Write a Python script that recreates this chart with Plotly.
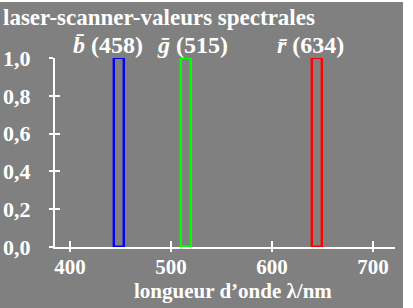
import plotly.graph_objects as go

# Data
channels = ["b", "g", "r"]
peak_labels = [458, 515, 634]
bar_centers = [448.5, 515.3, 644.3]
bar_heights = [1.0, 1.0, 1.0]
bar_width = 10
bar_colors = ["#0000ff", "#00ff00", "#ff0000"]
label_px = [108, 192, 310]
x_ticks = [400, 500, 600, 700]
y_ticks = [0.0, 0.2, 0.4, 0.6, 0.8, 1.0]

W, H = 413, 308
L, R, T, B = 55, 18, 58, 61
pw = W - L - R
ph = H - T - B

FONT = "Liberation Serif"
GRAY = "#808080"

fig = go.Figure()
for c, x, h, col in zip(channels, bar_centers, bar_heights, bar_colors):
    fig.add_trace(go.Bar(x=[x], y=[h], width=[bar_width],
                         marker=dict(color="rgba(0,0,0,0)", line=dict(color=col, width=2.4)),
                         showlegend=False, hoverinfo="skip"))

# empty helper traces so the overlaid tick-only axes are drawn
fig.add_trace(go.Scatter(x=[], y=[], xaxis="x2", yaxis="y", showlegend=False, hoverinfo="skip"))
fig.add_trace(go.Scatter(x=[], y=[], xaxis="x", yaxis="y2", showlegend=False, hoverinfo="skip"))

for c, p, lx in zip(channels, peak_labels, label_px):
    fig.add_annotation(x=(lx - L) / pw, y=(H - B - 45) / ph, xref="paper", yref="paper",
                       showarrow=False,
                       text=f"<i>{c}\u0304</i> ({p})", xanchor="center", yanchor="middle",
                       font=dict(family=FONT, size=24, color="white", weight="bold"))

fig.add_annotation(x=(233 - L) / pw, y=-(291 - (H - B)) / ph, xref="paper", yref="paper",
                   showarrow=False, text="longueur d\u2019onde \u03bb/nm",
                   xanchor="center", yanchor="middle",
                   font=dict(family=FONT, size=21, color="white", weight="bold"))

# gray background panel
fig.add_shape(type="rect", xref="paper", yref="paper", layer="below",
              x0=-L / pw, x1=(403 - L) / pw, y0=-B / ph, y1=(H - B - 2) / ph,
              fillcolor=GRAY, line=dict(width=0))

xr = [385.15, 721.8]
fig.update_layout(
    width=W, height=H,
    margin=dict(l=L, r=R, t=T, b=B, pad=0),
    paper_bgcolor="white", plot_bgcolor="rgba(0,0,0,0)",
    separators=", ",
    title=dict(text="laser-scanner-valeurs spectrales", x=3 / W, xanchor="left",
               y=1 - 17 / H, yanchor="middle", xref="container", yref="container",
               font=dict(family=FONT, size=23, color="white", weight="bold")),
    xaxis=dict(range=xr, tickvals=x_ticks, showgrid=False, zeroline=False,
               showline=True, linecolor="white", linewidth=2,
               ticks="outside", ticklen=3, tickwidth=2, tickcolor="white",
               tickfont=dict(family=FONT, size=21, color="white", weight="bold"),
               ticklabelstandoff=-3, automargin=False),
    xaxis2=dict(range=xr, tickvals=x_ticks, overlaying="x", anchor="y", side="bottom",
                showgrid=False, zeroline=False, showline=False, showticklabels=False,
                ticks="inside", ticklen=6, tickwidth=2, tickcolor="white"),
    yaxis=dict(range=[0, 1], tickvals=y_ticks, tickformat=".1f", showgrid=False, zeroline=False,
               showline=True, linecolor="white", linewidth=2,
               ticks="outside", ticklen=4, tickwidth=2, tickcolor="white",
               tickfont=dict(family=FONT, size=22, color="white", weight="bold"),
               ticklabelstandoff=14, automargin=False),
    yaxis2=dict(range=[0, 1], tickvals=y_ticks, overlaying="y", anchor="x", side="left",
                showgrid=False, zeroline=False, showline=False, showticklabels=False,
                ticks="inside", ticklen=5, tickwidth=2, tickcolor="white"),
    bargap=0,
)

fig.write_html("out.html", config={"displayModeBar": False},
               post_script="document.body.style.margin='0';")
